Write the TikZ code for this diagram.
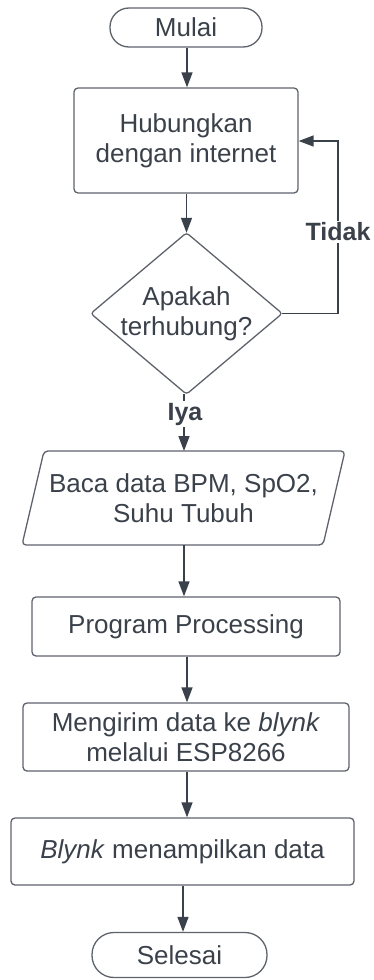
\documentclass[tikz,border=0pt]{standalone}
\usepackage{fontspec}
\setmainfont{Liberation Sans}
\usetikzlibrary{arrows.meta,calc}
\definecolor{txt}{HTML}{3A414A}
\definecolor{brd}{HTML}{5E636B}
\tikzset{
  base/.style={font=\fontsize{26}{30}\selectfont, text=txt, align=center, inner sep=0pt},
  box/.style={base, draw=brd, line width=1.3pt, rounded corners=4pt, rectangle},
  pill/.style={base, draw=brd, line width=1.3pt, rectangle, rounded corners=19pt},
  outline/.style={draw=brd, line width=1.3pt},
  lbl/.style={font=\fontsize{25}{30}\selectfont\bfseries, text=txt, fill=white, inner sep=2pt},
  arr/.style={draw=txt, line width=1.4pt, -{Triangle[length=15pt,width=11pt]}},
  ln/.style={draw=txt, line width=1.4pt}
}
\begin{document}
\begin{tikzpicture}[x=1pt,y=-1pt]
\useasboundingbox (0,0) rectangle (374,980);
\node[pill, minimum width=152pt, minimum height=39pt] (mulai) at (186,27.5) {Mulai};
\node[box, minimum width=224pt, minimum height=105pt] (hub) at (186,140.5) {Hubungkan\\dengan internet};
\node[base, minimum width=191pt, minimum height=161pt] (dec) at (186.5,313.5) {Apakah\\terhubung?};
\draw[outline, rounded corners=3pt] (dec.north) -- (dec.east) -- (dec.south) -- (dec.west) -- cycle;
\node[base, minimum width=280pt, minimum height=94pt] (baca) at (183.5,498) {Baca data BPM, SpO2,\\Suhu Tubuh};
\draw[outline, rounded corners=4pt]
  ($(baca.center)+(-139.5,-47)$) -- ($(baca.center)+(161.5,-47)$) --
  ($(baca.center)+(139.5,47)$) -- ($(baca.center)+(-161.5,47)$) -- cycle;
\node[box, minimum width=308pt, minimum height=59pt] (prog) at (186,626.5) {Program Processing};
\node[box, minimum width=326pt, minimum height=68pt] (kirim) at (186,737) {Mengirim data ke \textit{blynk}\\melalui ESP8266};
\node[box, minimum width=343pt, minimum height=67pt] (blynk) at (182.5,851.5) {\textit{Blynk} menampilkan data};
\node[pill, minimum width=175pt, minimum height=45pt, rounded corners=22pt] (selesai) at (179.5,955) {Selesai};

\coordinate (bacatop) at (184,451);
\coordinate (loopa) at (338,313.5);
\coordinate (loopb) at (338,141);

\draw[arr] (mulai.south -| 187,0) -- (hub.north -| 187,0);
\draw[arr] (hub.south -| dec.north) -- (dec.north);
\draw[ln] (loopa) -- (dec.east);
\draw[arr] (loopa) -- (loopb) -- (hub.east |- loopb);
\draw[arr] (dec.south -| bacatop) -- (bacatop);
\draw[arr] (baca.south -| bacatop) -- (prog.north -| bacatop);
\draw[arr] (prog.south -| 187,0) -- (kirim.north -| 187,0);
\draw[arr] (kirim.south -| 187,0) -- (blynk.north -| 187,0);
\draw[arr] (blynk.south -| 183,0) -- (selesai.north -| 183,0);

\node[lbl] (tidak) at (338,232) {Tidak};
\node[lbl] (iya) at (185,414) {Iya};
\end{tikzpicture}
\end{document}
